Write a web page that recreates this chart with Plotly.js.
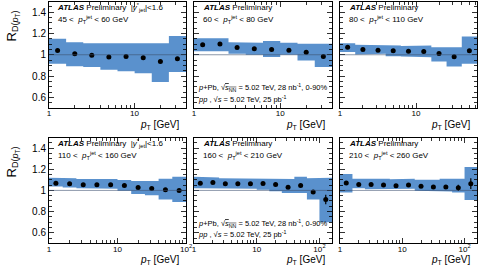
<!DOCTYPE html>
<html><head><meta charset="utf-8">
<script src="https://cdn.plot.ly/plotly-3.0.1.min.js"></script>
<style>html,body{margin:0;padding:0;background:#fff}#chart{width:482px;height:267px}</style>
</head><body><div id="chart"></div>
<script>
// bin edges and centres of track pT [GeV]
const binEdges = [1, 1.585, 2.512, 3.981, 6.310, 10, 15.85, 25.12, 39.81, 63.10, 100, 158.5];
const binCenters = [1.26, 2.0, 3.16, 5.0, 7.94, 12.6, 20.0, 31.6, 50.1, 79.4, 126];

const jetLabels = ["45 <", "60 <", "80 <", "110 <", "160 <", "210 <"];
const jetUpper = ["60 GeV", "80 GeV", "110 GeV", "160 GeV", "210 GeV", "260 GeV"];

// R_D(pT) values per jet pT bin
const r45 = [1.04, 1.01, 0.995, 0.978, 0.984, 0.972, 0.937, 0.962];
const r60 = [1.094, 1.10, 1.069, 1.056, 1.05, 1.043, 1.024, 0.984];
const r80 = [1.071, 1.05, 1.043, 1.038, 1.034, 1.031, 1.012, 0.981, 1.038];
const r110 = [1.067, 1.062, 1.053, 1.053, 1.053, 1.046, 1.028, 1.018, 1.006, 1.0];
const r160 = [1.067, 1.074, 1.062, 1.062, 1.062, 1.065, 1.055, 1.03, 1.046, 0.984, 0.914];
const r210 = [1.07, 1.055, 1.055, 1.05, 1.043, 1.05, 1.04, 1.033, 1.033, 1.024, 1.064];

// statistical errors
const e45 = [0, 0, 0, 0, 0, 0, 0, 0];
const e60 = [0, 0, 0, 0, 0, 0, 0, 0];
const e80 = [0, 0, 0, 0, 0, 0, 0, 0, 0];
const e110 = [0, 0, 0, 0, 0, 0, 0, 0, 0, 0];
const e160 = [0, 0, 0, 0, 0, 0, 0, 0, 0, 0, 0.045];
const e210 = [0, 0, 0, 0, 0, 0, 0, 0, 0, 0.03, 0.05];

// systematic band upper / lower edges
const hi45 = [1.15, 1.118, 1.109, 1.103, 1.103, 1.109, 1.109, 1.175];
const lo45 = [0.915, 0.893, 0.884, 0.859, 0.846, 0.827, 0.743, 0.837];
const hi60 = [1.156, 1.156, 1.118, 1.112, 1.128, 1.112, 1.103, 1.103];
const lo60 = [1.034, 1.034, 1.01, 1.0, 0.978, 1.0, 0.946, 0.884];
const hi80 = [1.109, 1.094, 1.094, 1.087, 1.081, 1.087, 1.071, 1.071, 1.172];
const lo80 = [1.025, 1.003, 1.009, 0.987, 0.984, 0.977, 0.937, 0.89, 0.915];
const hi110 = [1.12, 1.114, 1.108, 1.108, 1.108, 1.099, 1.09, 1.09, 1.11, 1.13];
const lo110 = [1.037, 1.028, 1.021, 1.021, 1.015, 0.997, 0.966, 0.954, 0.915, 0.89];
const hi160 = [1.129, 1.123, 1.114, 1.114, 1.114, 1.114, 1.108, 1.108, 1.129, 1.114, 1.12];
const lo160 = [1.021, 1.021, 1.015, 1.015, 1.015, 1.006, 0.991, 0.975, 0.975, 0.914, 0.698];
const hi210 = [1.155, 1.11, 1.116, 1.11, 1.105, 1.11, 1.1, 1.1, 1.11, 1.11, 1.22];
const lo210 = [0.98, 1.02, 1.012, 1.015, 1.015, 1.015, 0.997, 0.99, 0.99, 0.98, 0.91];

const panels = [
  {r: r45, e: e45, hi: hi45, lo: lo45, xr: [0, 1.6]},
  {r: r60, e: e60, hi: hi60, lo: lo60, xr: [0, 1.6]},
  {r: r80, e: e80, hi: hi80, lo: lo80, xr: [0, 1.8]},
  {r: r110, e: e110, hi: hi110, lo: lo110, xr: [0, 2.0]},
  {r: r160, e: e160, hi: hi160, lo: lo160, xr: [0, 2.2]},
  {r: r210, e: e210, hi: hi210, lo: lo210, xr: [0, 2.2]}
];

const W = 482, H = 267;
const px = v => v / W, py = v => 1 - v / H;
const colX = [[49, 186], [194, 332], [340, 477]];
const rowY = [[1.5, 108], [137.5, 243.3]];
const FONT = "Liberation Sans, Arial, sans-serif";
const bandColor = "rgb(90,145,205)";

const traces = [];
const layout = {
  width: W, height: H,
  margin: {l: 0, r: 0, t: 0, b: 0},
  paper_bgcolor: "#fff", plot_bgcolor: "#fff",
  showlegend: false,
  font: {family: FONT, color: "#000"},
  shapes: [], annotations: []
};

panels.forEach((p, i) => {
  const n = i + 1;
  const xa = n === 1 ? "x" : "x" + n, ya = n === 1 ? "y" : "y" + n;
  const col = i % 3, row = Math.floor(i / 3);
  // band polygon
  const xs = [], ys = [];
  for (let k = 0; k < p.hi.length; k++) { xs.push(binEdges[k], binEdges[k + 1]); ys.push(p.hi[k], p.hi[k]); }
  for (let k = p.lo.length - 1; k >= 0; k--) { xs.push(binEdges[k + 1], binEdges[k]); ys.push(p.lo[k], p.lo[k]); }
  traces.push({type: "scatter", mode: "lines", x: xs, y: ys, fill: "toself",
    fillcolor: bandColor, line: {width: 0, color: bandColor}, xaxis: xa, yaxis: ya, hoverinfo: "skip"});
  traces.push({type: "scatter", mode: "markers", x: binCenters.slice(0, p.r.length), y: p.r,
    error_y: {type: "data", array: p.e, visible: true, color: "#000", thickness: 1.2, width: 0},
    marker: {color: "#000", size: 5}, xaxis: xa, yaxis: ya});

  const xkey = n === 1 ? "xaxis" : "xaxis" + n, ykey = n === 1 ? "yaxis" : "yaxis" + n;
  layout[xkey] = {
    type: "log", range: p.xr, domain: [px(colX[col][0]), px(colX[col][1])], anchor: ya,
    dtick: 1, exponentformat: "power", ticks: "inside", ticklen: 5, tickwidth: 0.8, tickcolor: "#000",
    minor: {ticks: "inside", ticklen: 3, dtick: "D1", tickcolor: "#000", tickwidth: 0.8, showgrid: false},
    mirror: "allticks", showline: true, linecolor: "#000", linewidth: 1, showgrid: false, zeroline: false,
    ticklabelstandoff: -2,
    tickfont: {size: 6.5, family: FONT, color: "#000"}
  };
  layout[ykey] = {
    range: [0.5, 1.5], domain: [py(rowY[row][1]), py(rowY[row][0])], anchor: xa,
    dtick: 0.2, tick0: 0, ticks: "inside", ticklen: 5, tickwidth: 0.8, tickcolor: "#000",
    minor: {ticks: "inside", ticklen: 3, dtick: 0.05, tickcolor: "#000", tickwidth: 0.8, showgrid: false},
    mirror: "allticks", showline: true, linecolor: "#000", linewidth: 1, showgrid: false, zeroline: false,
    showticklabels: col === 0, tickfont: {size: 10, family: FONT, color: "#000"}
  };
  // reference line at 1
  layout.shapes.push({type: "line", xref: xa + " domain", yref: ya, x0: 0, x1: 1, y0: 1, y1: 1,
    line: {color: "rgba(60,80,110,0.75)", width: 0.8}});

  const x0 = colX[col][0], top = rowY[row][0], bot = rowY[row][1];
  const atlas = "<b><i>ATLAS</i></b> Preliminary" + (col === 0 ? "  |<i>y</i><sup>*</sup><sub>jet</sub>|<1.6" : "");
  layout.annotations.push({xref: "paper", yref: "paper", x: px(x0 + (col === 0 ? 6 : 7)), y: py(top + 6),
    xanchor: "left", yanchor: "middle", showarrow: false, text: atlas, font: {size: 8, family: FONT}});
  layout.annotations.push({xref: "paper", yref: "paper", x: px(x0 + 7), y: py(top + 18),
    xanchor: "left", yanchor: "middle", showarrow: false,
    text: jetLabels[i] + "  <i>p</i><sub>T</sub><sup>jet</sup> < " + jetUpper[i], font: {size: 8, family: FONT}});
  if (col === 1) {
    layout.annotations.push({xref: "paper", yref: "paper", x: px(x0 + 2), y: py(bot - 20),
      xanchor: "left", yanchor: "middle", showarrow: false,
      text: "<i>p</i>+Pb, √<span style='text-decoration:overline'><i>s</i><sub>NN</sub></span> = 5.02 TeV, 28 nb<sup>-1</sup>, 0-90%",
      font: {size: 7.5, family: FONT}});
    layout.annotations.push({xref: "paper", yref: "paper", x: px(x0 + 2), y: py(bot - 9),
      xanchor: "left", yanchor: "middle", showarrow: false,
      text: "<i>pp</i> , √<i>s</i> = 5.02 TeV, 25 pb<sup>-1</sup>", font: {size: 7.5, family: FONT}});
  }
  // x-axis title
  layout.annotations.push({xref: "paper", yref: "paper", x: px(colX[col][1] - 5), y: py(bot + 17),
    xanchor: "right", yanchor: "middle", showarrow: false,
    text: "<i>p</i><sub>T</sub> [GeV]", font: {size: 10, family: FONT}});
  if (col === 0) {
    layout.annotations.push({xref: "paper", yref: "paper", x: px(12), y: py(top + 25),
      xanchor: "center", yanchor: "middle", showarrow: false, textangle: -90,
      text: "R<sub>D(<i>p</i><sub>T</sub>)</sub>", font: {size: 13, family: FONT}});
  }
});

Plotly.newPlot("chart", traces, layout, {staticPlot: true, displayModeBar: false});
</script>
</body></html>
